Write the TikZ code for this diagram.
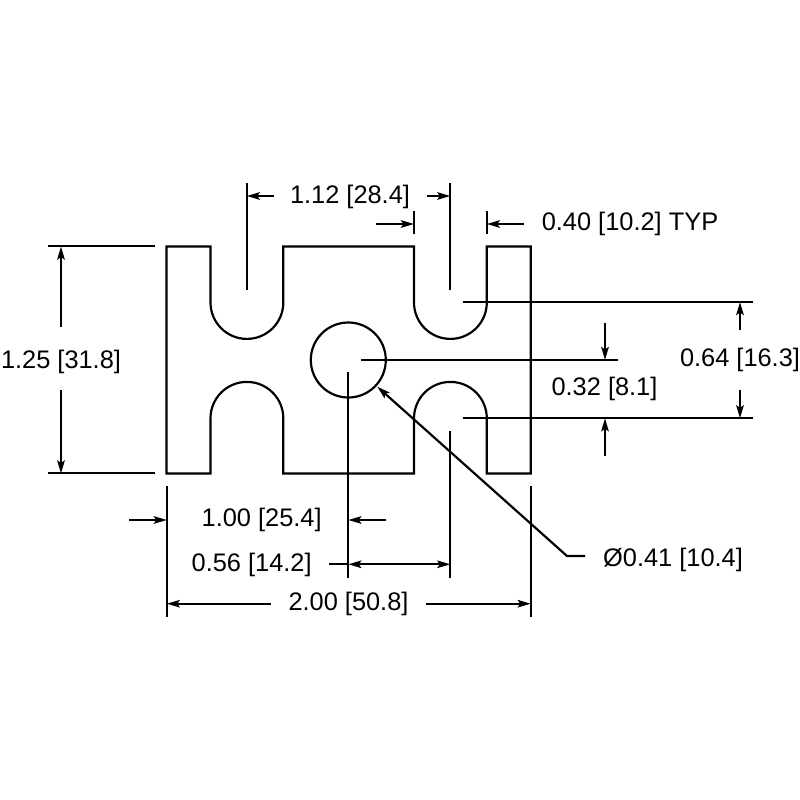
\documentclass[tikz,border=0pt]{standalone}
\usepackage{fontspec}
\setmainfont{Liberation Sans}
\usetikzlibrary{arrows.meta}
\begin{document}
\begin{tikzpicture}[
            x=0.01cm, y=-0.01cm,
            part/.style={line width=0.62pt, line join=miter},
            ext/.style={line width=0.62pt},
            dimen/.style={line width=0.62pt, -{Stealth[length=1.3mm, width=0.75mm, inset=0.25mm]}},
            dimens/.style={line width=0.62pt, {Stealth[length=1.3mm, width=0.75mm, inset=0.25mm]}-{Stealth[length=1.3mm, width=0.75mm, inset=0.25mm]}},
            label/.style={inner sep=0pt, font=\fontsize{7.22}{8.7}\selectfont},
        ]
        \useasboundingbox (0, 0) rectangle (800, 800);

        % outline of the part
        \draw[part] (166.5, 246.5) -- (210.5, 246.5) -- (210.5, 302.5)
            arc[start angle=180, end angle=0, radius=36.4] -- (283.3, 246.5)
            -- (414, 246.5) -- (414, 302.5)
            arc[start angle=180, end angle=0, radius=36.4] -- (486.8, 246.5)
            -- (530.7, 246.5) -- (530.7, 473.5) -- (486.8, 473.5) -- (486.8, 418.3)
            arc[start angle=0, end angle=-180, radius=36.4] -- (414, 473.5)
            -- (283.3, 473.5) -- (283.3, 418.3)
            arc[start angle=0, end angle=-180, radius=36.4] -- (210.5, 473.5)
            -- (166.5, 473.5) -- cycle;
        \draw[part] (348.3, 360) circle[radius=37.5];

        % extension lines
        \draw[ext] (48, 246.2) -- (155, 246.2);
        \draw[ext] (48, 473.2) -- (155, 473.2);
        \draw[ext] (246.8, 183) -- (246.8, 290);
        \draw[ext] (450.3, 183) -- (450.3, 290);
        \draw[ext] (414, 211) -- (414, 234);
        \draw[ext] (486.8, 211) -- (486.8, 234);
        \draw[ext] (462.5, 302) -- (753, 302);
        \draw[ext] (462.5, 418.3) -- (753, 418.3);
        \draw[ext] (360.5, 360) -- (618, 360);
        \draw[ext] (348.3, 372) -- (348.3, 577.5);
        \draw[ext] (450.3, 430.5) -- (450.3, 577.5);
        \draw[ext] (166.8, 486) -- (166.8, 617);
        \draw[ext] (530.7, 486) -- (530.7, 617);

        % dimension arrows
        \draw[dimen] (61, 327) -- (61, 246.5);
        \draw[dimen] (61, 390) -- (61, 473.5);
        \draw[dimen] (274, 196) -- (246.8, 196);
        \draw[dimen] (426.5, 196) -- (450.3, 196);
        \draw[dimen] (376, 224) -- (414, 224);
        \draw[dimen] (524, 224) -- (486.8, 224);
        \draw[dimen] (605, 322.5) -- (605, 360);
        \draw[dimen] (605, 456) -- (605, 418.3);
        \draw[dimen] (740, 330) -- (740, 302);
        \draw[dimen] (740, 389.5) -- (740, 418.3);
        \draw[dimen] (129, 520) -- (166.8, 520);
        \draw[dimen] (386, 520) -- (348.3, 520);
        \draw[ext] (329, 564.3) -- (348.3, 564.3);
        \draw[dimens] (348.3, 564.3) -- (450.3, 564.3);
        \draw[dimen] (271, 603.7) -- (166.8, 603.7);
        \draw[dimen] (425.7, 603.7) -- (530.7, 603.7);
        \draw[dimen] (585, 556) -- (567, 556) -- (377.3, 386.7);

        % labels
        \node[label] (height) at (61, 361.5) {1.25 [31.8]};
        \node[label] (slots) at (350, 197) {1.12 [28.4]};
        \node[label] (web) at (630, 223.5) {0.40 [10.2] TYP};
        \node[label] (offset) at (604.5, 389) {0.32 [8.1]};
        \node[label] (pitch) at (740, 359.5) {0.64 [16.3]};
        \node[label] (half) at (261.7, 520) {1.00 [25.4]};
        \node[label] (gap) at (251.7, 564.5) {0.56 [14.2]};
        \node[label] (width) at (348.5, 604) {2.00 [50.8]};
        \node[label] (bore) at (673, 559.5) {Ø0.41 [10.4]};
    \end{tikzpicture}
\end{document}
